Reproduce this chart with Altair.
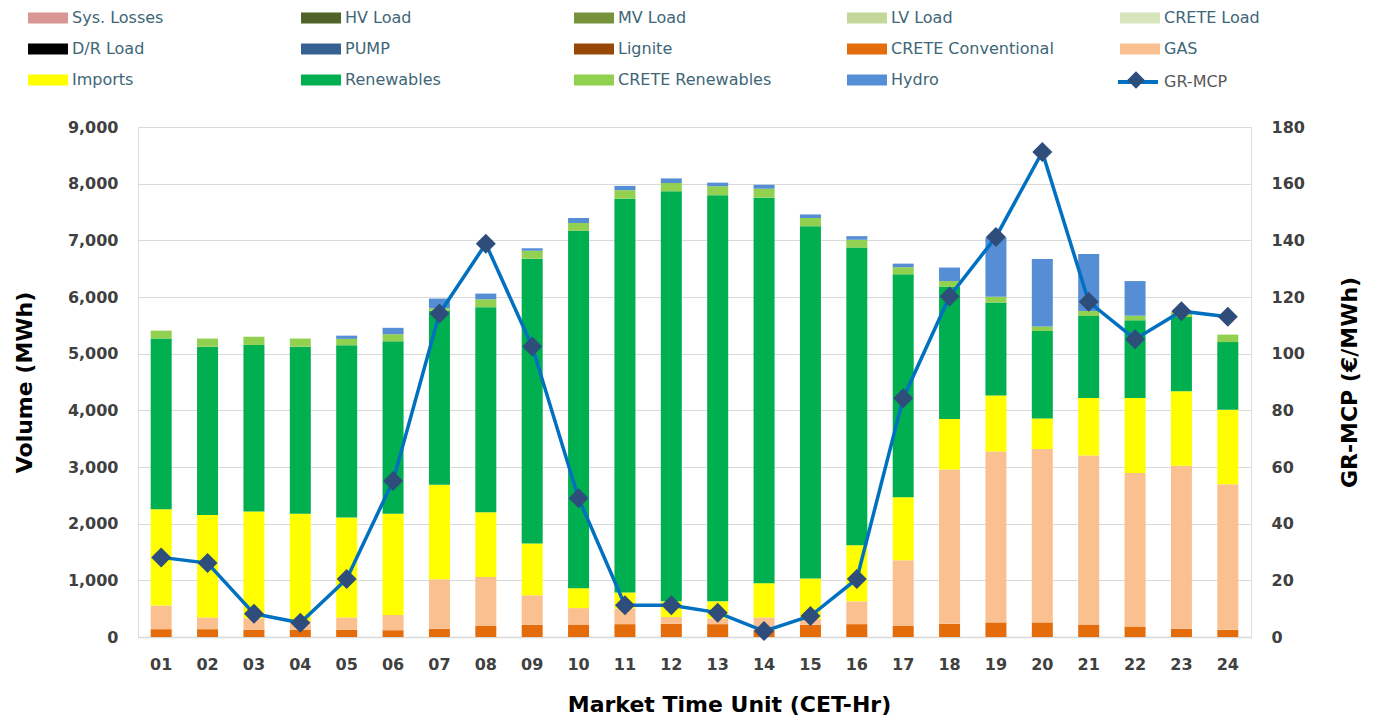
import altair as alt
import pandas as pd

hours = [f"{i:02d}" for i in range(1, 25)]

crete_conv = [138, 138, 126, 126, 126, 120, 145, 195, 214, 220, 227, 233, 227, 126, 214, 227, 195, 233, 258, 258, 220, 176, 145, 126]
gas        = [416, 208, 204, 157, 220, 270, 875, 862, 522, 290, 276, 119, 100, 220, 101, 402, 1158, 2725, 3014, 3058, 2983, 2719, 2876, 2568]
imports    = [1699, 1806, 1885, 1894, 1762, 1787, 1667, 1146, 913, 352, 284, 277, 302, 604, 717, 988, 1114, 887, 988, 542, 1013, 1321, 1315, 1315]
renewables = [3014, 2971, 2939, 2946, 3040, 3040, 3071, 3618, 5028, 6306, 6947, 7237, 7168, 6803, 6218, 5255, 3933, 2335, 1643, 1542, 1448, 1372, 1309, 1195]
crete_ren  = [139, 144, 145, 144, 113, 126, 44, 139, 139, 138, 151, 145, 158, 158, 144, 139, 126, 101, 101, 81, 88, 82, 85, 133]
hydro      = [0, 0, 0, 0, 57, 113, 170, 100, 44, 88, 76, 82, 63, 69, 63, 63, 63, 239, 1044, 1190, 1007, 611, 0, 0]
gr_mcp     = [28.1, 26.1, 8.2, 5.0, 20.5, 55.1, 114.2, 138.8, 102.5, 49.0, 11.2, 11.2, 8.6, 2.1, 7.4, 20.5, 84.3, 120.2, 141.2, 171.2, 118.3, 105.1, 115.0, 113.0]

legend_names = ["Sys. Losses", "HV Load", "MV Load", "LV Load", "CRETE Load",
                "D/R Load", "PUMP", "Lignite", "CRETE Conventional", "GAS",
                "Imports", "Renewables", "CRETE Renewables", "Hydro"]
legend_colors = ["#DA9694", "#4F6228", "#76933C", "#C4D79B", "#D8E4BC",
                 "#000000", "#366092", "#974706", "#E46C0A", "#FAC090",
                 "#FFFF00", "#00B050", "#92D050", "#558ED5"]

stack = [("CRETE Conventional", crete_conv), ("GAS", gas), ("Imports", imports),
         ("Renewables", renewables), ("CRETE Renewables", crete_ren), ("Hydro", hydro)]
rows = []
for k, (name, vals) in enumerate(stack):
    for h, v in zip(hours, vals):
        rows.append({"hour": h, "series": name, "value": v, "ord": k})
bars_df = pd.DataFrame(rows)
mcp_df = pd.DataFrame({"hour": hours, "mcp": gr_mcp})

FONT = "DejaVu Sans"
LBL = "#404040"

x_enc = alt.X("hour:N", sort=hours,
              scale=alt.Scale(paddingInner=0, paddingOuter=0),
              axis=alt.Axis(title="Market Time Unit (CET-Hr)", labelAngle=0, ticks=False,
                            domainColor="#D9D9D9", domainWidth=1.5, labelPadding=19,
                            labelFont=FONT, labelFontSize=16, labelFontWeight="bold", labelColor=LBL,
                            titleFont=FONT, titleFontSize=22, titleFontWeight="bold", titleColor="#000000",
                            titlePadding=22, titleX=591, grid=False))

bars = alt.Chart(bars_df).mark_bar(size=21).encode(
    x=x_enc,
    y=alt.Y("value:Q", stack="zero",
            scale=alt.Scale(domain=[0, 9000]),
            axis=alt.Axis(values=list(range(0, 9001, 1000)), format=",.0f", title="Volume (MWh)",
                          grid=True, gridColor="#D9D9D9", gridWidth=1.2, domain=False, ticks=False,
                          labelPadding=20, labelFont=FONT, labelFontSize=16, labelFontWeight="bold",
                          labelColor=LBL, titleFont=FONT, titleFontSize=22, titleFontWeight="bold",
                          titleColor="#000000", titlePadding=31)),
    color=alt.Color("series:N",
                    scale=alt.Scale(domain=legend_names, range=legend_colors),
                    legend=alt.Legend(orient="none", legendX=-100, legendY=-119, columns=5,
                                      direction="horizontal", title=None, padding=0,
                                      symbolType="M-2,-0.55H2V0.55H-2Z", symbolSize=400,
                                      symbolStrokeWidth=0, labelFont=FONT, labelFontSize=16,
                                      labelColor="#3E6676", labelOffset=14, columnPadding=66,
                                      rowPadding=13, gridAlign="all", labelLimit=400)),
    order=alt.Order("ord:Q", sort="ascending"),
)

right_axis = alt.Axis(orient="right", values=list(range(0, 181, 20)), grid=False, domain=False,
                      ticks=False, title="GR-MCP (€/MWh)", titleAngle=270, titleBaseline="top",
                      labelPadding=20, labelFont=FONT, labelFontSize=16, labelFontWeight="bold",
                      labelColor=LBL, titleFont=FONT, titleFontSize=22, titleFontWeight="bold",
                      titleColor="#000000", titlePadding=35)

line = alt.Chart(mcp_df).transform_calculate(lg="'GR-MCP'").mark_line(strokeWidth=3.5).encode(
    x=alt.X("hour:N", sort=hours),
    y=alt.Y("mcp:Q", scale=alt.Scale(domain=[0, 180]), axis=right_axis),
    stroke=alt.Stroke("lg:N", scale=alt.Scale(range=["#0070C0"]),
                      legend=alt.Legend(orient="none", legendX=978, legendY=-67, title=None,
                                        symbolType="stroke", symbolSize=1600, symbolStrokeWidth=4,
                                        labelFont=FONT, labelFontSize=16, labelColor="#595959",
                                        labelOffset=4)),
)

points = alt.Chart(mcp_df).transform_calculate(pg="'GR-MCP'").mark_point(
    shape="diamond", filled=True, size=400, opacity=1).encode(
    x=alt.X("hour:N", sort=hours),
    y=alt.Y("mcp:Q", scale=alt.Scale(domain=[0, 180]), axis=right_axis),
    fill=alt.Fill("pg:N", scale=alt.Scale(range=["#2E4D7B"]),
                  legend=alt.Legend(orient="none", legendX=989, legendY=-56, title=None,
                                    symbolType="diamond", symbolSize=300, symbolOpacity=1,
                                    symbolStrokeWidth=0, labelExpr="''")),
)

chart = alt.layer(bars, alt.layer(line, points)).resolve_scale(
    y="independent", color="independent"
).properties(
    width=1113, height=510,
    padding={"left": 5, "top": 0, "right": 5, "bottom": 0},
).configure_view(stroke=None).configure(font=FONT)

chart.save("out.html", embed_options={"renderer": "svg", "actions": False})
